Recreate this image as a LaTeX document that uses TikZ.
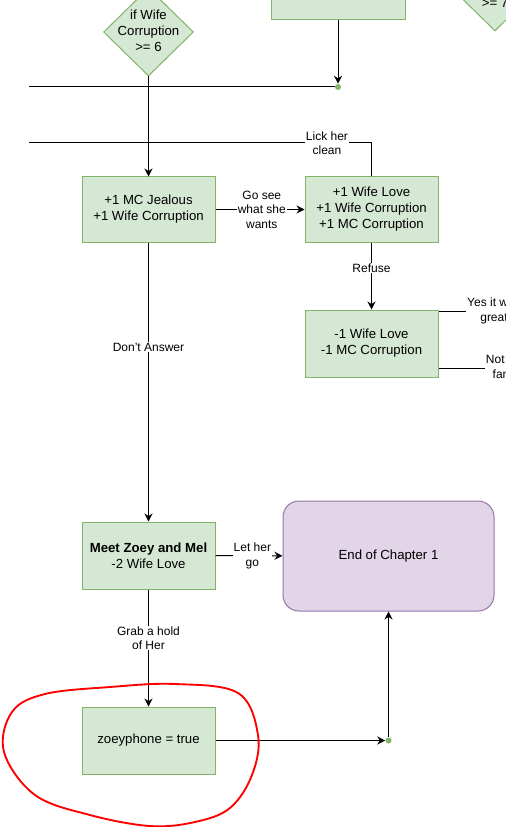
\documentclass[tikz,border=0pt]{standalone}
\usepackage{fontspec}
\setmainfont{Liberation Sans}
\usetikzlibrary{arrows.meta,shapes.geometric}
\definecolor{gfill}{HTML}{D5E8D4}
\definecolor{gline}{HTML}{82B366}
\definecolor{pfill}{HTML}{E1D5E7}
\definecolor{pline}{HTML}{9673A6}
\begin{document}
\begin{tikzpicture}[x=0.75pt,y=-0.75pt,
  box/.style={draw=gline, fill=gfill, line width=0.75pt, minimum width=99.75pt, minimum height=48.75pt, align=center, font=\fontsize{9.9}{12}\selectfont, inner sep=0pt},
  dia/.style={diamond, draw=gline, fill=gfill, line width=0.75pt, minimum width=67.5pt, minimum height=66pt, inner sep=0pt},
  txt/.style={align=center, font=\fontsize{9.9}{12}\selectfont, inner sep=0pt},
  lab/.style={fill=white, align=center, font=\fontsize{9}{10.8}\selectfont, inner sep=0.6pt},
  con/.style={line width=0.75pt, draw=black},
  arr/.style={con, -{Stealth[length=6pt,width=6pt,inset=2pt]}},
  dot/.style={circle, fill=gline, minimum size=4.5pt, inner sep=0pt}]
\useasboundingbox (0,0) rectangle (506,827);

% nodes
\node[box, minimum width=100.5pt, minimum height=45pt] (t0) at (338,-10) {};
\node[dia] (d1) at (148.5,32) {};
\node[txt] (d1t) at (148.5,31) {if Wife\\Corruption\\>= 6};
\node[dia] (d2) at (495,-13) {};
\node[txt] (d2t) at (495,3) {>= 7};

\node[box] (b1) at (148.5,209.5) {+1 MC Jealous\\+1 Wife Corruption};
\node[box] (b2) at (371.5,209.5) {+1 Wife Love\\+1 Wife Corruption\\+1 MC Corruption};
\node[box, minimum height=50.25pt] (b3) at (371.5,343.5) {-1 Wife Love\\-1 MC Corruption};
\node[box, minimum height=50.25pt] (b4) at (148.5,555.5) {{\bfseries Meet Zoey and Mel}\\-2 Wife Love};
\node[box, minimum height=50.25pt] (b5) at (148.5,740.5) {zoeyphone = true};
\node[draw=pline, fill=pfill, line width=0.75pt, rounded corners=12pt, minimum width=158.25pt, minimum height=82.5pt, font=\fontsize{9.9}{12}\selectfont] (e1) at (388.5,556) {End of Chapter 1};

\node[dot] (j1) at (338,87) {};
\node[dot] (j2) at (388.5,740.5) {};
\coordinate (w1) at (29,87);
\coordinate (w2) at (29,143);
\coordinate (r1) at (540,311);
\coordinate (r2) at (540,368);

% connectors
\draw[arr] (t0.south) -- (j1);
\draw[con] (j1) -- (w1);
\draw[arr] (d1.south) -- (b1.north);
\draw[con] (b2.north) |- node[lab, pos=0.565]{Lick her\\clean} (w2);
\draw[arr] (b1) -- node[lab, pos=0.52]{Go see\\what she\\wants} (b2);
\draw[arr] (b2) -- node[lab, pos=0.38]{Refuse} (b3);
\draw[con] (b3.east |- r1) -- (r1);
\node[lab] (yl) at (494,311) {Yes it was\\great};
\draw[con] (b3.east |- r2) -- (r2);
\node[lab] (nl) at (507,368) {Not that\\fancy};
\draw[arr] (b1) -- node[lab, pos=0.375]{Don't Answer} (b4);
\draw[arr] (b4) -- node[lab, pos=0.55]{Let her\\go} (e1);
\draw[arr] (b4) -- node[lab, pos=0.415]{Grab a hold\\of Her} (b5);
\draw[arr] (b5) -- (j2);
\draw[arr] (j2) -- (e1.south);

% red freehand circle
\draw[red, line width=1.4pt] plot[smooth cycle, tension=0.6] coordinates {(175,684) (238,693) (258,735) (252,775) (230,808) (195,822) (150,826) (90,815) (35,795) (4,752) (12,712) (45,694) (110,687)};
\end{tikzpicture}
\end{document}
